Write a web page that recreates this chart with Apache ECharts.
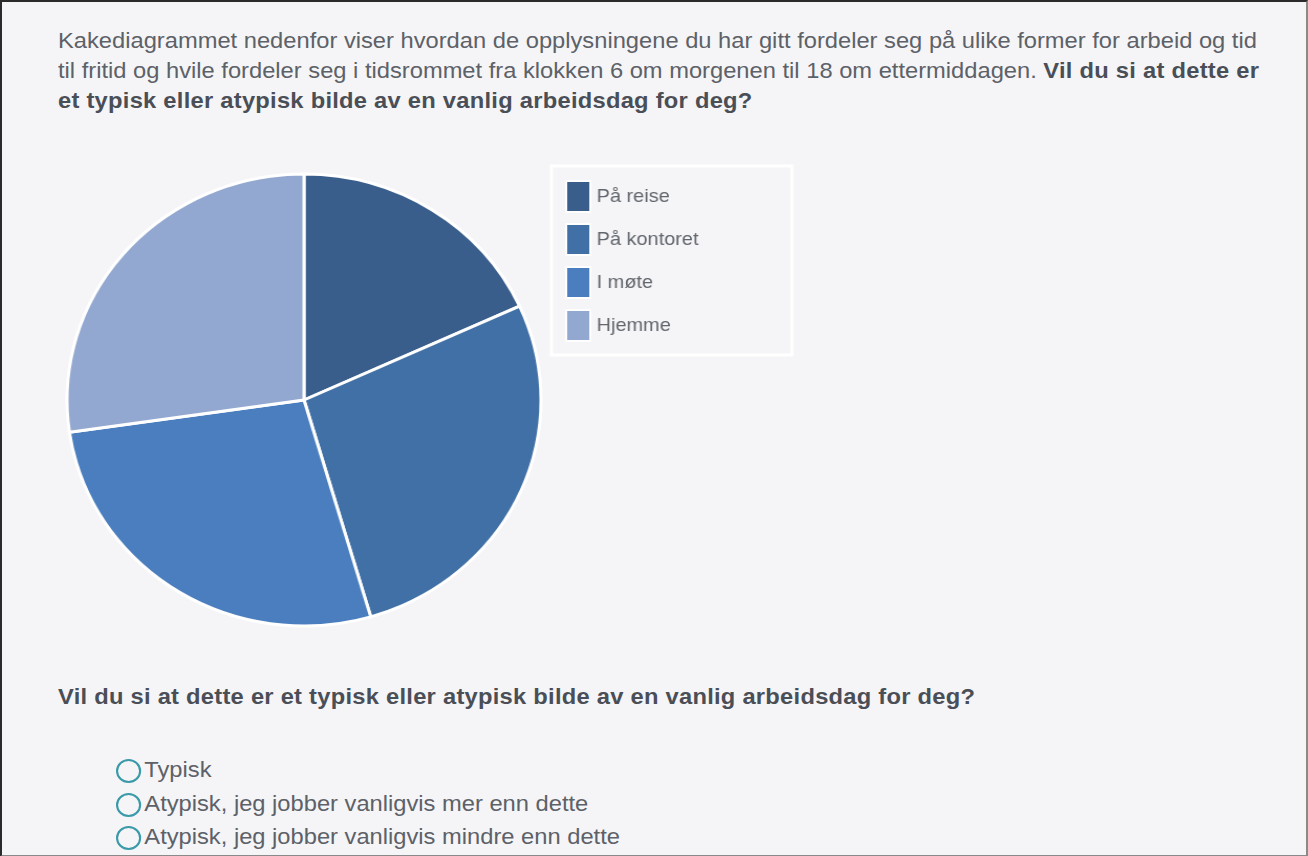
<!DOCTYPE html>
<html>
<head>
<meta charset="utf-8">
<script src="https://cdn.jsdelivr.net/npm/echarts@6/dist/echarts.min.js"></script>
<style>
  html, body { margin: 0; padding: 0; }
  body {
    width: 1308px; height: 856px; position: relative; overflow: hidden;
    background: #f5f5f7;
    font-family: "Liberation Sans", Arial, sans-serif;
    color: #5d6168;
  }
  .frame {
    position: absolute; left: 0; top: 0; width: 1304px; height: 853px;
    border-top: 2px solid #2b2b2b; border-left: 2px solid #2b2b2b;
    border-right: 2px solid #8a8a8a; border-bottom: 2px solid #8a8a8a;
    pointer-events: none;
  }
  /* skjermbildet er litt strukket horisontalt, derfor scaleX */
  .stretch { transform-origin: 0 0; transform: scaleX(1.049); }
  .intro {
    position: absolute; left: 58px; top: 26px;
    font-size: 22.6px; line-height: 30px; white-space: nowrap;
  }
  b { color: #4a4e56; letter-spacing: 0.25px; }
  .question {
    position: absolute; left: 58px; top: 682px; white-space: nowrap;
    font-size: 22.6px; line-height: 30px; font-weight: bold; color: #4a4e56; letter-spacing: 0.25px;
  }
  .options { position: absolute; left: 116px; top: 753px; font-size: 22.6px; color: #5d6168; white-space: nowrap; }
  .opt { height: 33.5px; line-height: 33.5px; display: flex; align-items: center; }
  .radio {
    width: 24px; height: 24px; border: 2.5px solid #3a9aa9; border-radius: 50%;
    box-sizing: border-box; margin-right: 3px; margin-top: 3px; background: #f5f5f7; flex: none;
  }
  #chart {
    position: absolute; left: 0; top: 130px; width: 820px; height: 540px;
    transform-origin: 304px 270px; transform: scaleX(1.0487);
  }
</style>
</head>
<body>
<div class="intro stretch">
  Kakediagrammet nedenfor viser hvordan de opplysningene du har gitt fordeler seg på ulike former for arbeid og tid<br>
  til fritid og hvile fordeler seg i tidsrommet fra klokken 6 om morgenen til 18 om ettermiddagen. <b>Vil du si at dette er</b><br>
  <b>et typisk eller atypisk bilde av en vanlig arbeidsdag for deg?</b>
</div>
<div id="chart"></div>
<div class="question stretch">Vil du si at dette er et typisk eller atypisk bilde av en vanlig arbeidsdag for deg?</div>
<div class="options stretch">
  <div class="opt"><span class="radio"></span>Typisk</div>
  <div class="opt"><span class="radio"></span>Atypisk, jeg jobber vanligvis mer enn dette</div>
  <div class="opt"><span class="radio"></span>Atypisk, jeg jobber vanligvis mindre enn dette</div>
</div>
<div class="frame"></div>
<script>
  // andel av tidsrommet 06-18 (lest av kakediagrammet)
  const categories = ['På reise', 'På kontoret', 'I møte', 'Hjemme'];
  const values = [2, 3, 3, 3];
  const colors = ['#3a5e8c', '#4170a6', '#4a7ebe', '#93a8d0'];

  const chart = echarts.init(document.getElementById('chart'), null, { renderer: 'canvas' });

  chart.setOption({
    animation: false,
    color: colors,
    legend: {
      orient: 'vertical',
      left: 540,
      top: 36,
      padding: [14, 89, 13, 13],
      itemWidth: 23,
      itemHeight: 31,
      itemGap: 10,
      borderColor: '#ffffff',
      borderWidth: 3,
      backgroundColor: '#f5f5f7',
      icon: 'rect',
      selectedMode: false,
      textStyle: {
        fontFamily: 'Liberation Sans, Arial, sans-serif',
        fontSize: 19,
        color: '#62666d',
        padding: [0, 0, 0, 1]
      },
      data: categories
    },
    series: [{
      type: 'pie',
      center: [304, 270],
      radius: 226,
      startAngle: 90,
      clockwise: true,
      label: { show: false },
      labelLine: { show: false },
      emphasis: { disabled: true },
      itemStyle: { borderColor: '#ffffff', borderWidth: 3 },
      data: categories.map(function (name, i) { return { name: name, value: values[i] }; })
    }]
  });
</script>
</body>
</html>
